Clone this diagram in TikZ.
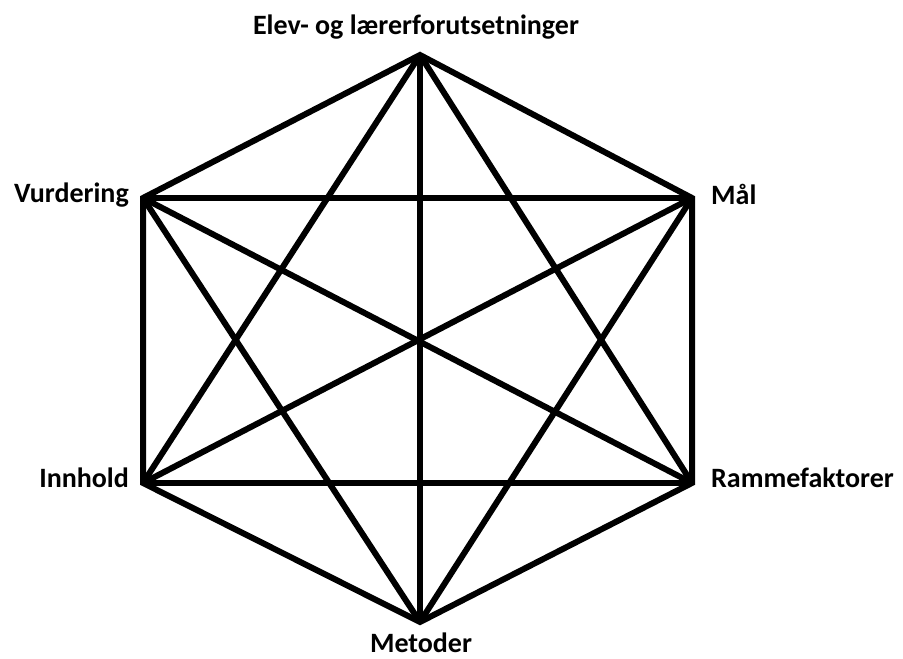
\documentclass[tikz,border=0pt]{standalone}
\usepackage{fontspec}
\setmainfont{Carlito}
\begin{document}
\begin{tikzpicture}[x=1pt,y=1pt,
  edge/.style={line width=6pt,black,line join=miter},
  lbl/.style={font=\bfseries\fontsize{28}{32}\selectfont,inner sep=0pt,text=black}]
\useasboundingbox (0,0) rectangle (903,659);
\coordinate (T) at (420,604);
\coordinate (UR) at (692,461);
\coordinate (LR) at (692,176);
\coordinate (B) at (420,37);
\coordinate (LL) at (143,176);
\coordinate (UL) at (143,461);
% sides
\draw[edge] (T) -- (UR) -- (LR) -- (B) -- (LL) -- (UL) -- cycle;
% long diagonals
\draw[edge] (T) -- (B);
\draw[edge] (UR) -- (LL);
\draw[edge] (UL) -- (LR);
% short diagonals
\draw[edge] (T) -- (LR);
\draw[edge] (T) -- (LL);
\draw[edge] (UL) -- (UR);
\draw[edge] (LL) -- (LR);
\draw[edge] (UL) -- (B);
\draw[edge] (UR) -- (B);
% labels
\node[lbl,anchor=base] (lT) at (416,624) {Elev- og lærerforutsetninger};
\node[lbl,anchor=base west] (lUR) at (711,454) {Mål};
\node[lbl,anchor=base east] (lUL) at (129,456) {Vurdering};
\node[lbl,anchor=base east] (lLL) at (129,171) {Innhold};
\node[lbl,anchor=base west] (lLR) at (711,171) {Rammefaktorer};
\node[lbl,anchor=base] (lB) at (421,6) {Metoder};
\end{tikzpicture}
\end{document}
